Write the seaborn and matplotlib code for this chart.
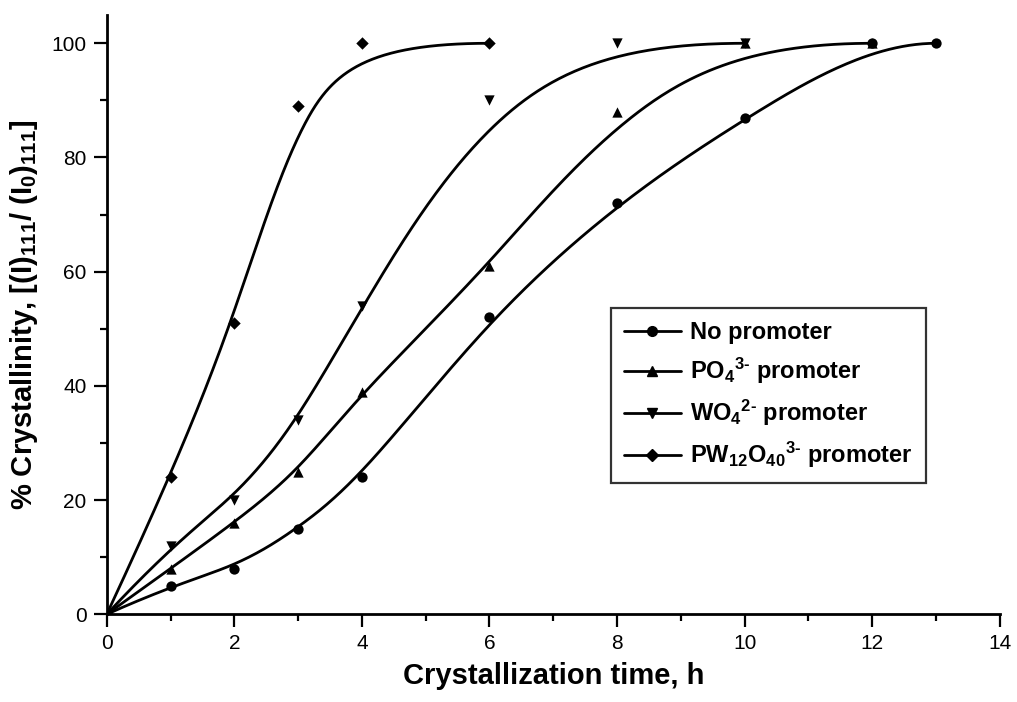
import numpy as np
import pandas as pd
import matplotlib
matplotlib.use("Agg")
import matplotlib.pyplot as plt
from matplotlib.lines import Line2D
from matplotlib.ticker import MultipleLocator
import seaborn as sns

# Crystallization kinetics: % crystallinity vs time for each promoter
labels = [
    "No promoter",
    r"PO$_\mathbf{4}$$^\mathbf{3\text{-}}$ promoter",
    r"WO$_\mathbf{4}$$^\mathbf{2\text{-}}$ promoter",
    r"PW$_\mathbf{12}$O$_\mathbf{40}$$^\mathbf{3\text{-}}$ promoter",
]
markers = ["o", "^", "v", "D"]

time_none = [0, 1, 2, 3, 4, 6, 8, 10, 12, 13]
cryst_none = [0, 5, 8, 15, 24, 52, 72, 87, 100, 100]

time_po4 = [0, 1, 2, 3, 4, 6, 8, 10, 12]
cryst_po4 = [0, 8, 16, 25, 39, 61, 88, 100, 100]

time_wo4 = [0, 1, 2, 3, 4, 6, 8, 10]
cryst_wo4 = [0, 12, 20, 34, 54, 90, 100, 100]

time_pw = [0, 1, 2, 3, 4, 6]
cryst_pw = [0, 24, 51, 89, 100, 100]

series = [
    (time_none, cryst_none),
    (time_po4, cryst_po4),
    (time_wo4, cryst_wo4),
    (time_pw, cryst_pw),
]


def bspline(xs, ys, n=400, k=3):
    """Clamped cubic B-spline using the measured points as control points."""
    P = np.column_stack([xs, ys]).astype(float)
    m = len(P)
    k = min(k, m - 1)
    inner = np.arange(1, m - k)
    knots = np.concatenate([np.zeros(k + 1), inner, np.full(k + 1, m - k)]).astype(float)
    t = np.linspace(0, m - k, n)
    t[-1] -= 1e-9

    def basis(i, p, tt):
        if p == 0:
            return ((knots[i] <= tt) & (tt < knots[i + 1])).astype(float)
        a = np.zeros_like(tt)
        b = np.zeros_like(tt)
        d1 = knots[i + p] - knots[i]
        d2 = knots[i + p + 1] - knots[i + 1]
        if d1 > 0:
            a = (tt - knots[i]) / d1 * basis(i, p - 1, tt)
        if d2 > 0:
            b = (knots[i + p + 1] - tt) / d2 * basis(i + 1, p - 1, tt)
        return a + b

    B = np.array([basis(i, k, t) for i in range(m)])
    C = B.T @ P
    return C[:, 0], C[:, 1]


sns.set_theme(style="ticks")
plt.rcParams["font.family"] = ["Liberation Sans", "DejaVu Sans"]
plt.rcParams["text.color"] = "black"
plt.rcParams["axes.labelcolor"] = "black"
plt.rcParams["mathtext.fontset"] = "custom"
plt.rcParams["mathtext.rm"] = "Liberation Sans:bold"
plt.rcParams["mathtext.bf"] = "Liberation Sans:bold"
plt.rcParams["mathtext.it"] = "Liberation Sans:bold"

fig = plt.figure(figsize=(10.17, 7.02), dpi=100)
ax = fig.add_axes([0.105, 0.125, 0.878, 0.854])

handles = []
for (xs, ys), lab, mk in zip(series, labels, markers):
    cx, cy = bspline(xs, ys)
    curve = pd.DataFrame({"t": cx, "c": cy})
    pts = pd.DataFrame({"t": xs, "c": ys})
    sns.lineplot(data=curve, x="t", y="c", ax=ax, color="black", lw=2.0,
                 sort=False, estimator=None, zorder=2)
    ms = 55 if mk != "D" else 40
    sns.scatterplot(data=pts, x="t", y="c", ax=ax, color="black", marker=mk,
                    s=ms, edgecolor="black", linewidth=0, zorder=3)
    handles.append(Line2D([], [], color="black", lw=2.0, marker=mk,
                          markersize=7 if mk != "D" else 6, label=lab))

ax.set_xlim(0, 14)
ax.set_ylim(0, 105)
ax.xaxis.set_major_locator(MultipleLocator(2))
ax.xaxis.set_minor_locator(MultipleLocator(1))
ax.yaxis.set_major_locator(MultipleLocator(20))
ax.yaxis.set_minor_locator(MultipleLocator(10))

sns.despine(ax=ax)
for sp in ("left", "bottom"):
    ax.spines[sp].set_linewidth(2.0)
    ax.spines[sp].set_color("black")
ax.tick_params(which="major", direction="out", length=9.5, width=1.6,
               labelsize=15, colors="black", pad=5)
ax.tick_params(which="minor", direction="out", length=5, width=1.6, colors="black")

ax.set_xlabel("Crystallization time, h", fontsize=21, fontweight="bold", labelpad=6)
ax.set_ylabel(r"% Crystallinity, [(I)$_\mathbf{111}$/ (I$_\mathbf{0}$)$_\mathbf{111}$]",
              fontsize=21, fontweight="bold", labelpad=8)

leg = ax.legend(handles=handles, loc="upper right", bbox_to_anchor=(0.917, 0.511),
                frameon=True, fancybox=False, edgecolor="black",
                prop={"weight": "bold", "size": 17}, handlelength=2.4,
                labelspacing=0.5, borderpad=0.55, handletextpad=0.4,
                borderaxespad=0)
leg.get_frame().set_linewidth(1.6)

fig.savefig("out.png", dpi=100)
